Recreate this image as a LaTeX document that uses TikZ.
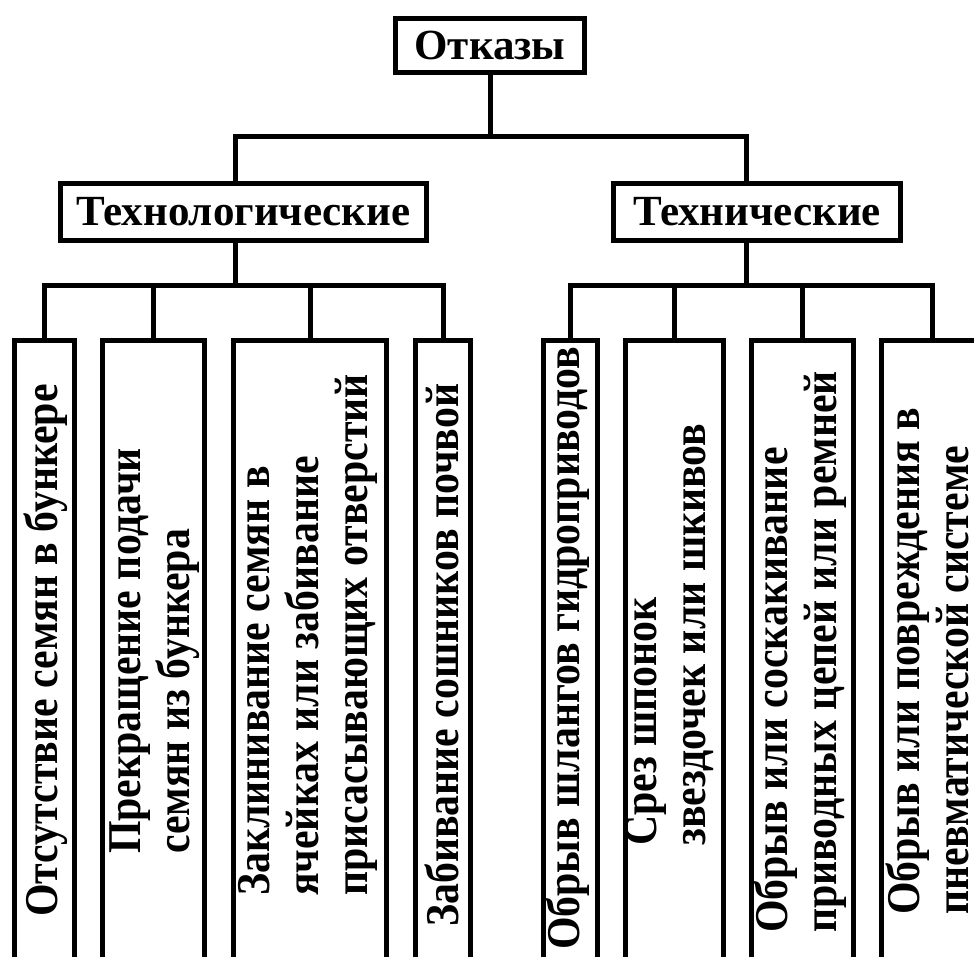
\documentclass[tikz,border=0pt]{standalone}
\usepackage{fontspec}
\setmainfont{Liberation Serif}
\newfontfamily\leaffont[FakeStretch=0.89]{Liberation Serif}

\begin{document}
\begin{tikzpicture}[x=1pt,y=-1pt,
    box/.style={draw,line width=5pt,inner sep=0pt,outer sep=0pt,
        font=\fontsize{43}{49}\selectfont\bfseries},
    leaf/.style={draw,line width=5pt,anchor=north,minimum height=660pt,
        inner sep=0pt,outer sep=0pt},
    vlabel/.style={rotate=90,anchor=west,inner sep=0pt,align=left,
        font=\leaffont\fontsize{47}{49}\selectfont\bfseries},
    link/.style={line width=5pt}]
    \clip (0,0) rectangle (974,957);

    % Top level
    \node[box,minimum width=189pt,minimum height=54pt] (root) at (490,45.5) {Отказы};

    % Second level
    \node[box,minimum width=366pt,minimum height=57pt] (tl) at (243.5,212) {Технологические};
    \node[box,minimum width=287pt,minimum height=57pt] (tr) at (757,212) {Технические};

    % Leaf boxes
    \node[leaf,minimum width=60pt]  (l1) at (44.5,340.5) {};
    \node[leaf,minimum width=102pt] (l2) at (153.5,340.5) {};
    \node[leaf,minimum width=153pt] (l3) at (310,340.5) {};
    \node[leaf,minimum width=55pt]  (l4) at (443,340.5) {};
    \node[leaf,minimum width=54pt]  (l5) at (570.5,340.5) {};
    \node[leaf,minimum width=98pt]  (l6) at (674.5,340.5) {};
    \node[leaf,minimum width=102pt] (l7) at (802.5,340.5) {};
    \node[leaf,minimum width=101pt] (l8) at (932,340.5) {};

    % Leaf texts
    \node[vlabel] (t1) at (46,917) {Отсутствие семян в бункере};
    \node[vlabel] (t2) at (155,854) {Прекращение подачи\\семян из бункера};
    \node[vlabel] (t3) at (308,896) {Заклинивание семян в\\ячейках или забивание\\присасывающих отверстий};
    \node[vlabel] (t4) at (442,927) {Забивание сошников почвой};
    \node[vlabel] (t5) at (568,950) {Обрыв шлангов гидроприводов};
    \node[vlabel] (t6) at (670,846) {Срез шпонок\\звездочек или шкивов};
    \node[vlabel] (t7) at (800,933) {Обрыв или соскакивание\\приводных цепей или ремней};
    \node[vlabel] (t8) at (927,915) {Обрыв или повреждения в\\пневматической системе};

    % Connectors
    \coordinate (bus1) at (490,137);
    \coordinate (bus2l) at (235,285.5);
    \coordinate (bus2r) at (746,285.5);
    \draw[link] (root.south) -- (bus1);
    \draw[link] ([xshift=-8.5pt]tl.north) |- (bus1) -| ([xshift=-11pt]tr.north);
    \draw[link] ([xshift=-8.5pt]tl.south) -- (bus2l);
    \draw[link] ([xshift=-11pt]tr.south) -- (bus2r);
    \draw[link] (l1.north) |- (bus2l) -| (l4.north);
    \draw[link] (l5.north) |- (bus2r) -| (l8.north);
    \foreach \n in {2,3,6,7}
        \draw[link] (l\n.north) -- (l\n.north |- bus2l);
\end{tikzpicture}
\end{document}
